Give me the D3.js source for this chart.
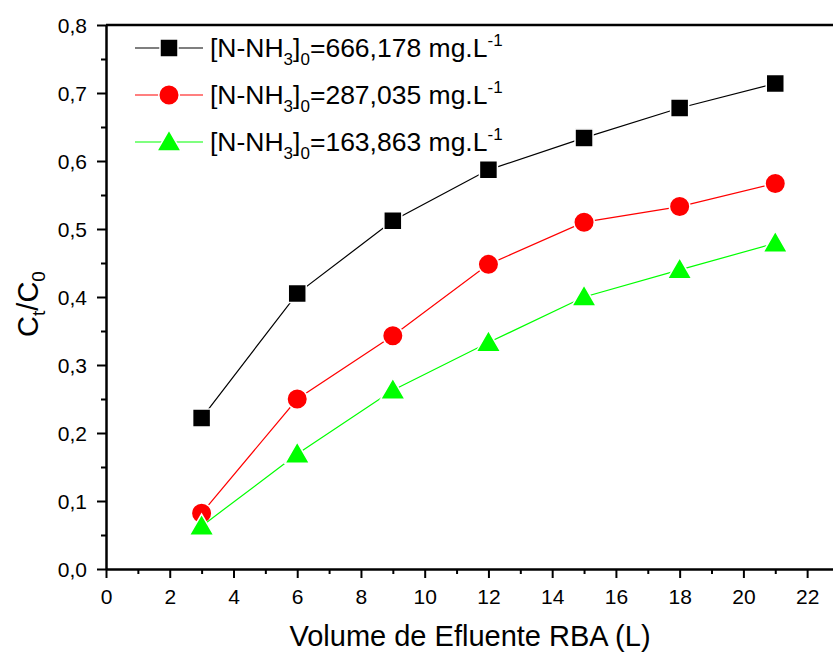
<!DOCTYPE html>
<html>
<head>
<meta charset="utf-8">
<script src="https://cdn.jsdelivr.net/npm/d3@7"></script>
<style>
  body { margin: 0; background: #fff; }
  svg { display: block; font-family: "Liberation Sans", Arial, sans-serif; }
  .axis path, .axis line { stroke: #000; }
</style>
</head>
<body>
<script>
// data
var volume = [3, 6, 9, 12, 15, 18, 21];
var c666 = [0.222, 0.405, 0.512, 0.587, 0.634, 0.678, 0.714];
var c287 = [0.082, 0.250, 0.343, 0.448, 0.510, 0.533, 0.567];
var c163 = [0.063, 0.169, 0.263, 0.333, 0.400, 0.440, 0.479];
var seriesNames = ['666,178', '287,035', '163,863'];
var xTicks = [0, 2, 4, 6, 8, 10, 12, 14, 16, 18, 20, 22];
var yTicks = [0, 0.1, 0.2, 0.3, 0.4, 0.5, 0.6, 0.7, 0.8];

var width = 833, height = 655;
var margin = {top: 25, right: -6, bottom: 86, left: 106};

var svg = d3.select('body').append('svg')
  .attr('width', width)
  .attr('height', height);

var x = d3.scaleLinear()
  .domain([0, 23])
  .range([margin.left, width - margin.right]);

var y = d3.scaleLinear()
  .domain([0, 0.8])
  .range([height - margin.bottom, margin.top]);

var fmt = d => d3.format('.1f')(d).replace('.', ',');

// minor ticks first
svg.append('g')
  .attr('class', 'axis')
  .attr('transform', `translate(0, ${y(0)})`)
  .call(d3.axisBottom(x).tickValues(d3.range(1, 23, 2)).tickSize(5).tickFormat(''))
  .call(g => g.select('.domain').remove())
  .selectAll('line').attr('stroke-width', 2);

svg.append('g')
  .attr('class', 'axis')
  .attr('transform', `translate(${x(0)}, 0)`)
  .call(d3.axisLeft(y).tickValues(d3.range(0.05, 0.8, 0.1)).tickSize(5).tickFormat(''))
  .call(g => g.select('.domain').remove())
  .selectAll('line').attr('stroke-width', 2);

var xAxis = svg.append('g')
  .attr('class', 'axis')
  .attr('transform', `translate(0, ${y(0)})`)
  .call(d3.axisBottom(x).tickValues(xTicks).tickSize(9).tickPadding(11).tickSizeOuter(0));
xAxis.selectAll('line').attr('stroke-width', 2);
xAxis.select('.domain').attr('stroke-width', 2.5);

var yAxis = svg.append('g')
  .attr('class', 'axis')
  .attr('transform', `translate(${x(0)}, 0)`)
  .call(d3.axisLeft(y).tickValues(yTicks).tickSize(9).tickPadding(10).tickFormat(fmt).tickSizeOuter(0));
yAxis.selectAll('line').attr('stroke-width', 2);
yAxis.select('.domain').attr('stroke-width', 2.5);
yAxis.selectAll('text').attr('dy', '0.35em');

svg.selectAll('.axis')
  .attr('font-family', '"Liberation Sans", Arial, sans-serif')
  .attr('font-size', 21);
svg.selectAll('.axis text')
  .style('font-size', '21px')
  .style('fill', '#000');

// top frame
svg.append('line')
  .attr('x1', x(0)).attr('x2', width)
  .attr('y1', y(0.8)).attr('y2', y(0.8))
  .attr('stroke', '#000').attr('stroke-width', 2.5);

// axis titles
svg.append('text')
  .attr('x', 470).attr('y', 646)
  .attr('text-anchor', 'middle')
  .style('font-size', '29px')
  .text('Volume de Efluente RBA (L)');

var yTitle = svg.append('text')
  .attr('transform', 'translate(38, 304) rotate(-90)')
  .attr('text-anchor', 'middle')
  .style('font-size', '29px');
yTitle.append('tspan').text('C');
yTitle.append('tspan').attr('dy', 7).style('font-size', '19px').text('t');
yTitle.append('tspan').attr('dy', -7).text('/C');
yTitle.append('tspan').attr('dy', 7).style('font-size', '19px').text('0');

var series = [
  {name: seriesNames[0], values: c666, color: '#000000', shape: d3.symbolSquare, size: 324},
  {name: seriesNames[1], values: c287, color: '#ff0000', shape: d3.symbolCircle, size: 330},
  {name: seriesNames[2], values: c163, color: '#00ff00', shape: d3.symbolTriangle, size: 260}
];

var line = d3.line()
  .x(d => x(d[0]))
  .y(d => y(d[1]));

series.forEach(function(s) {
  var pts = volume.map((v, i) => [v, s.values[i]]);
  svg.append('path')
    .attr('d', line(pts))
    .attr('fill', 'none')
    .attr('stroke', s.color)
    .attr('stroke-width', 1.2);
  svg.selectAll(null)
    .data(pts)
    .enter()
    .append('path')
    .attr('d', d3.symbol().type(s.shape).size(s.size))
    .attr('transform', d => `translate(${x(d[0])}, ${y(d[1]) + (s.shape === d3.symbolTriangle ? 2 : 0)})`)
    .attr('fill', s.color)
    .attr('stroke', '#fff')
    .attr('stroke-width', 1.5);
});

// legend
var legend = svg.append('g');
series.forEach(function(s, i) {
  var ly = 48 + i * 47;
  legend.append('line')
    .attr('x1', 135).attr('x2', 203)
    .attr('y1', ly).attr('y2', ly)
    .attr('stroke', s.color).attr('stroke-width', 1.2);
  legend.append('path')
    .attr('d', d3.symbol().type(s.shape).size(s.size))
    .attr('transform', `translate(169, ${ly + (s.shape === d3.symbolTriangle ? 2 : 0)})`)
    .attr('fill', s.color)
    .attr('stroke', '#fff')
    .attr('stroke-width', 1.5);
  var t = legend.append('text')
    .attr('x', 210).attr('y', ly + 9)
    .style('font-size', '26.5px');
  t.append('tspan').text('[N-NH');
  t.append('tspan').attr('dy', 8).style('font-size', '17px').text('3');
  t.append('tspan').attr('dy', -8).text(']');
  t.append('tspan').attr('dy', 8).style('font-size', '17px').text('0');
  t.append('tspan').attr('dy', -8).text('=' + s.name + ' mg.L');
  t.append('tspan').attr('dy', -11).style('font-size', '17px').text('-1');
});
</script>
</body>
</html>
